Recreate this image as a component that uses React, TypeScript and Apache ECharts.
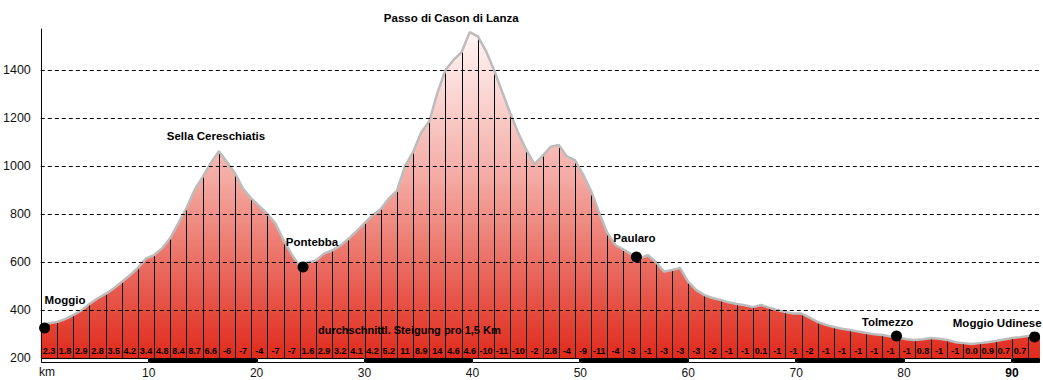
import React, { useEffect, useRef } from "react";
import * as echarts from "echarts";

// Elevation (m) at every 1.5 km boundary (km 0, 1.5, 3, ... 91.5)
const segmentTops = [
  335, 350, 379, 425, 467, 517, 575, 629, 700, 825, 955, 1062, 970, 865, 800, 690,
  582, 606, 648, 696, 762, 821, 896, 1058, 1187, 1400, 1475, 1540, 1400, 1221, 1067,
  1042, 1088, 1025, 896, 721, 652, 615, 600, 567, 517, 462, 442, 425, 412, 410, 392,
  385, 350, 329, 317, 304, 296, 284, 275, 283, 275, 262, 262, 271, 283, 292,
];
// Elevation (m) at the middle of each 1.5 km segment (km 0.75, 2.25, ... 90.75)
const midElev = [
  345, 362, 398, 448, 490, 545, 615, 658, 762, 900, 1012, 1017, 905, 833, 760, 632,
  598, 635, 668, 728, 795, 865, 1000, 1140, 1304, 1442, 1558, 1480, 1310, 1137, 1008,
  1080, 1040, 965, 805, 671, 632, 629, 560, 575, 483, 450, 432, 420, 421, 400, 385,
  368, 338, 322, 310, 299, 290, 278, 278, 280, 266, 258, 266, 277, 287,
];
const endKm = 92.6;
const endElev = 299;
const segmentKm = 1.5;

// average gradient per 1.5 km segment (%)
const gradients = [
  "2.3", "1.8", "2.9", "2.8", "3.5", "4.2", "3.4", "4.8", "8.4", "8.7", "6.6", "-6", "-7", "-4", "-7", "-7",
  "1.6", "2.9", "3.2", "4.1", "4.2", "5.2", "11", "8.9", "14", "4.6", "4.6", "-10", "-11", "-10", "-2",
  "2.8", "-4", "-9", "-11", "-4", "-3", "-1", "-3", "-3", "-3", "-2", "-1", "-1", "0.1", "-1", "-1",
  "-2", "-1", "-1", "-1", "-1", "-1", "-1", "0.8", "-1", "-1", "0.0", "0.9", "0.7", "0.7",
];

const placeNames = ["Moggio", "Sella Cereschiatis", "Pontebba", "Passo di Cason di Lanza", "Paularo", "Tolmezzo", "Moggio Udinese"];
const placeKm = [0.35, 16.6, 24.3, 39.8, 55.2, 79.3, 92.1];
const placeElev = [325, 1065, 579, 1560, 621, 292, 288];
const placeHasDot = [true, false, true, false, true, true, true];

const kmTicks = [0, 10, 20, 30, 40, 50, 60, 70, 80, 90];
const yTicks = [200, 400, 600, 800, 1000, 1200, 1400];
const caption = "durchschnittl. Steigung pro 1,5 Km";

export default function App() {
  const ref = useRef<HTMLDivElement>(null);

  useEffect(() => {
    if (!ref.current) return;
    const chart = echarts.init(ref.current, null, { renderer: "svg" });

    const profile: number[][] = [];
    segmentTops.forEach((e, i) => {
      profile.push([i * segmentKm, e]);
      if (i < midElev.length) profile.push([i * segmentKm + segmentKm / 2, midElev[i]]);
    });
    profile.push([endKm, endElev]);

    const vlines = segmentTops.map((e, i) => [i * segmentKm, e]).slice(1);
    const gradData = gradients.map((g, i) => [i * segmentKm + segmentKm / 2, 200]);
    const stripData = kmTicks.map((t, i) => [t, i < kmTicks.length - 1 ? kmTicks[i + 1] : endKm]);

    const labelLayout: any[] = [
      { align: "left", offset: [0, -28] },
      { align: "center", offset: [-4, -14] },
      { align: "center", offset: [9, -25] },
      { align: "center", offset: [-19, -14] },
      { align: "center", offset: [-2, -19] },
      { align: "center", offset: [-9, -14] },
      { align: "right", offset: [7, -14] },
    ];

    const labelFont = { fontFamily: "Liberation Sans", fontWeight: "bold" as const, fontSize: 11.5, color: "#000" };

    chart.setOption({
      animation: false,
      grid: { left: 40, right: 3, top: 29, bottom: 22 },
      xAxis: {
        type: "value",
        min: 0,
        max: endKm,
        interval: 10,
        axisLine: { show: false },
        axisTick: { show: false },
        splitLine: { show: false },
        axisLabel: {
          margin: 9,
          showMaxLabel: false,
          fontFamily: "Liberation Sans",
          fontSize: 12,
          color: "#111",
          formatter: (v: number) => (v === 0 ? "" : v === 90 ? "{b|90}" : kmTicks.includes(v) ? String(v) : ""),
          rich: { b: { fontWeight: "bold", fontFamily: "Liberation Sans", fontSize: 12, color: "#000" } },
        },
      },
      yAxis: {
        type: "value",
        min: yTicks[0],
        max: 1571,
        interval: 200,
        z: 10,
        axisLine: { show: true, lineStyle: { color: "#000", width: 1 } },
        axisTick: { show: false },
        axisLabel: {
          showMaxLabel: false,
          margin: 10,
          fontFamily: "Liberation Sans",
          fontSize: 12.5,
          color: "#111",
          formatter: (v: number) => (yTicks.includes(v) ? String(v) : ""),
        },
        splitLine: {
          show: true,
          showMinLine: false,
          showMaxLine: false,
          lineStyle: { color: "#000", width: 1, type: [4, 3] },
        },
      },
      graphic: [
        { type: "text", left: 39, top: 366, style: { text: "km", font: '12px "Liberation Sans"', fill: "#111" } },
        { type: "text", left: 318, top: 324, z: 100, style: { text: caption, font: 'bold 11px "Liberation Sans"', fill: "#000" } },
      ],
      series: [
        {
          type: "line",
          data: profile,
          showSymbol: false,
          z: 1,
          lineStyle: { width: 0 },
          areaStyle: {
            origin: "start",
            opacity: 1,
            color: new echarts.graphic.LinearGradient(0, 0, 0, 1, [
              { offset: 0, color: "#fff6f6" },
              { offset: 0.45, color: "#f4aaa3" },
              { offset: 1, color: "#e02a1b" },
            ]),
          },
        },
        {
          type: "custom",
          z: 2,
          data: vlines,
          renderItem: (params: any, api: any) => {
            const p0 = api.coord([api.value(0), 200]);
            const p1 = api.coord([api.value(0), api.value(1)]);
            const x = Math.round(p0[0]) + 0.5;
            return { type: "line", shape: { x1: x, y1: p0[1], x2: x, y2: p1[1] }, style: { stroke: "#000", lineWidth: 1 } };
          },
        },
        {
          type: "line",
          data: profile,
          showSymbol: false,
          z: 3,
          lineStyle: { color: "#bcbcbc", width: 2.5 },
        },
        {
          type: "custom",
          z: 4,
          data: gradData,
          renderItem: (params: any, api: any) => {
            const p = api.coord([api.value(0), 200]);
            return {
              type: "text",
              x: p[0],
              y: p[1] - 7,
              style: { text: gradients[params.dataIndex], fill: "#000", font: 'bold 9px "Liberation Sans"', align: "center", verticalAlign: "middle" },
            };
          },
        },
        {
          type: "custom",
          z: 4,
          data: stripData,
          renderItem: (params: any, api: any) => {
            const a = api.coord([api.value(0), 200]);
            const b = api.coord([api.value(1), 200]);
            const x0 = Math.round(a[0]) + 0.5;
            const x1 = Math.round(b[0]) - 0.5;
            return {
              type: "rect",
              shape: { x: x0, y: Math.round(a[1]) + 0.5, width: x1 - x0, height: 4 },
              style: { fill: params.dataIndex % 2 === 0 ? "#fff" : "#000", stroke: "#000", lineWidth: 1 },
            };
          },
        },
        {
          type: "scatter",
          z: 5,
          data: placeNames.map((n, i) => ({
            value: [placeKm[i], placeElev[i]],
            symbolSize: placeHasDot[i] ? 11 : 0,
            label: {
              show: true,
              formatter: n,
              position: "inside",
              align: labelLayout[i].align,
              verticalAlign: "middle",
              offset: labelLayout[i].offset,
              ...labelFont,
            },
          })),
          itemStyle: { color: "#000", opacity: 1 },
        },
      ],
    });
    return () => chart.dispose();
  }, []);

  return <div ref={ref} style={{ position: "absolute", left: 0, top: 0, width: 1043, height: 380 }} />;
}
